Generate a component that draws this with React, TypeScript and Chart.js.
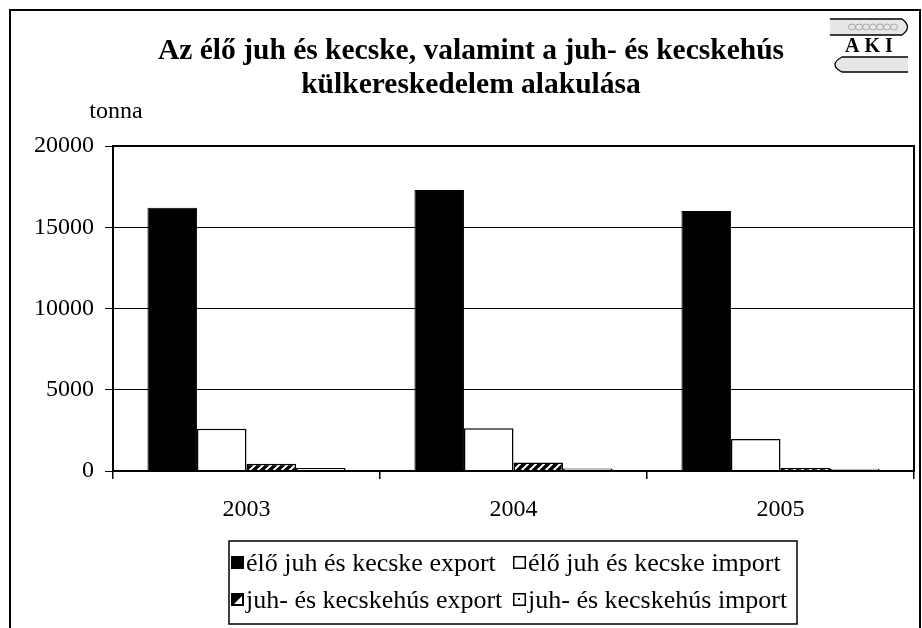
import React, { useEffect, useRef } from "react";
import { Chart, registerables } from "chart.js";
Chart.register(...registerables);

const years = ["2003", "2004", "2005"];
const liveExport = [16200, 17300, 16000];
const liveImport = [2600, 2630, 1970];
const meatExport = [450, 530, 190];
const meatImport = [180, 160, 140];
const seriesLabels = [
  "élő juh és kecske export",
  "élő juh és kecske import",
  "juh- és kecskehús export",
  "juh- és kecskehús import",
];
const titleLines = [
  "Az élő juh és kecske, valamint a juh- és kecskehús",
  "külkereskedelem alakulása",
];
const yUnit = "tonna";
const yMin = 0;
const yMax = 20000;
const yStep = 5000;

const SERIF = '"Liberation Serif", "Times New Roman", serif';

function makeHatch(): CanvasPattern | string {
  const c = document.createElement("canvas");
  c.width = 8;
  c.height = 8;
  const g = c.getContext("2d");
  if (!g) return "#000";
  g.fillStyle = "#000";
  g.fillRect(0, 0, 8, 8);
  g.strokeStyle = "#fff";
  g.lineWidth = 2;
  g.beginPath();
  g.moveTo(0, 8);
  g.lineTo(8, 0);
  g.moveTo(-4, 4);
  g.lineTo(4, -4);
  g.moveTo(4, 12);
  g.lineTo(12, 4);
  g.stroke();
  return g.createPattern(c, "repeat") || "#000";
}

function drawLogo(ctx: CanvasRenderingContext2D) {
  ctx.save();
  ctx.strokeStyle = "#000";
  ctx.lineWidth = 1.3;
  // top book
  ctx.fillStyle = "#e6e6e6";
  ctx.beginPath();
  ctx.moveTo(830, 19);
  ctx.lineTo(902, 19);
  ctx.quadraticCurveTo(913, 27, 902, 35);
  ctx.lineTo(830, 35);
  ctx.closePath();
  ctx.fill();
  ctx.beginPath();
  ctx.moveTo(830, 19);
  ctx.lineTo(902, 19);
  ctx.quadraticCurveTo(913, 27, 902, 35);
  ctx.lineTo(830, 35);
  ctx.stroke();
  ctx.strokeStyle = "#999";
  ctx.lineWidth = 0.8;
  for (let x = 852; x < 896; x += 7) {
    ctx.beginPath();
    ctx.ellipse(x, 27, 3.5, 3, 0, 0, Math.PI * 2);
    ctx.stroke();
  }
  // text
  ctx.fillStyle = "#000";
  ctx.font = `bold 20px ${SERIF}`;
  ctx.textAlign = "center";
  ctx.textBaseline = "middle";
  ctx.fillText("A K I", 869, 47);
  // bottom book
  ctx.strokeStyle = "#000";
  ctx.lineWidth = 1.3;
  ctx.fillStyle = "#e6e6e6";
  ctx.beginPath();
  ctx.moveTo(908, 57);
  ctx.lineTo(842, 57);
  ctx.quadraticCurveTo(828, 64.5, 842, 72);
  ctx.lineTo(908, 72);
  ctx.fill();
  ctx.stroke();
  ctx.restore();
}

export default function App() {
  const ref = useRef<HTMLCanvasElement | null>(null);

  useEffect(() => {
    const canvas = ref.current;
    if (!canvas) return;
    const hatch = makeHatch();

    const deco = {
      id: "deco",
      beforeDraw(chart: any) {
        const ctx = chart.ctx as CanvasRenderingContext2D;
        ctx.save();
        ctx.fillStyle = "#fff";
        ctx.fillRect(0, 0, chart.width, chart.height);
        ctx.restore();
      },
      afterDraw(chart: any) {
        const ctx = chart.ctx as CanvasRenderingContext2D;
        const a = chart.chartArea;
        ctx.save();
        // plot border
        ctx.strokeStyle = "#000";
        ctx.lineWidth = 2;
        ctx.strokeRect(a.left, a.top, a.right - a.left, a.bottom - a.top);
        // outer frame
        ctx.lineWidth = 2;
        ctx.strokeRect(10, 10, 910, 640);
        // title
        ctx.fillStyle = "#000";
        ctx.textAlign = "center";
        ctx.textBaseline = "middle";
        ctx.font = `bold 29.5px ${SERIF}`;
        ctx.fillText(titleLines[0], 471, 51);
        ctx.fillText(titleLines[1], 471, 85);
        // unit
        ctx.font = `24px ${SERIF}`;
        ctx.fillText(yUnit, 116, 112);
        // legend
        ctx.lineWidth = 1.5;
        ctx.strokeRect(229, 541, 568, 83);
        const items = [
          { x: 231, y: 563, i: 0 },
          { x: 513, y: 563, i: 1 },
          { x: 231, y: 600, i: 2 },
          { x: 513, y: 600, i: 3 },
        ];
        ctx.textAlign = "left";
        ctx.font = `26px ${SERIF}`;
        for (const it of items) {
          const s = 13;
          const sx = it.x, sy = it.y - 7;
          ctx.lineWidth = 1.5;
          if (it.i === 0) {
            ctx.fillStyle = "#000";
            ctx.fillRect(sx, sy, s, s);
          } else if (it.i === 1) {
            ctx.fillStyle = "#fff";
            ctx.fillRect(sx, sy, s, s);
            ctx.strokeRect(sx + 0.75, sy + 0.75, s - 1.5, s - 1.5);
          } else if (it.i === 2) {
            ctx.fillStyle = "#000";
            ctx.fillRect(sx, sy, s, s);
            ctx.fillStyle = "#fff";
            ctx.beginPath();
            ctx.moveTo(sx + 3, sy + s - 2);
            ctx.lineTo(sx + s - 2, sy + 3);
            ctx.lineTo(sx + s - 2, sy + s - 2);
            ctx.closePath();
            ctx.fill();
          } else {
            ctx.fillStyle = "#fff";
            ctx.fillRect(sx, sy, s, s);
            ctx.strokeRect(sx + 0.75, sy + 0.75, s - 1.5, s - 1.5);
            ctx.fillStyle = "#000";
            ctx.fillRect(sx + 5, sy + 5, 2, 2);
          }
          ctx.fillStyle = "#000";
          ctx.fillText(seriesLabels[it.i], it.x + 15, it.y + 1);
        }
        drawLogo(ctx);
        ctx.restore();
      },
    };

    const chart = new Chart(canvas, {
      type: "bar",
      data: {
        labels: years,
        datasets: [
          { label: seriesLabels[0], data: liveExport, backgroundColor: "#000", borderColor: "#000", borderWidth: 1 },
          { label: seriesLabels[1], data: liveImport, backgroundColor: "#fff", borderColor: "#000", borderWidth: 1.5 },
          { label: seriesLabels[2], data: meatExport, backgroundColor: hatch as any, borderColor: "#000", borderWidth: 1.5 },
          { label: seriesLabels[3], data: meatImport, backgroundColor: "#fff", borderColor: "#000", borderWidth: 1.5 },
        ],
      },
      options: {
        responsive: false,
        animation: false,
        layout: { padding: { left: 0, top: 146, right: 8, bottom: 97 } },
        datasets: { bar: { barPercentage: 1, categoryPercentage: 0.742 } },
        plugins: { legend: { display: false }, title: { display: false }, tooltip: { enabled: false } },
        scales: {
          x: {
            grid: { offset: true, drawOnChartArea: false, color: "#000", tickLength: 8, lineWidth: 1.5 },
            border: { color: "#000", width: 2 },
            ticks: { color: "#000", font: { family: SERIF, size: 24 }, padding: 16 },
            afterFit(s: any) { s.height = 60; },
          },
          y: {
            min: yMin,
            max: yMax,
            ticks: {
              stepSize: yStep,
              color: "#000",
              font: { family: SERIF, size: 24 },
              padding: 11,
              callback: (v: any) => String(v),
            },
            grid: { color: "#000", lineWidth: 1, tickLength: 8 },
            border: { color: "#000", width: 2 },
            afterFit(s: any) { s.width = 113; },
          },
        },
      },
      plugins: [deco],
    } as any);

    return () => chart.destroy();
  }, []);

  return (
    <canvas
      ref={ref}
      width={922}
      height={628}
      style={{ position: "absolute", left: 0, top: 0, width: 922, height: 628 }}
    />
  );
}
